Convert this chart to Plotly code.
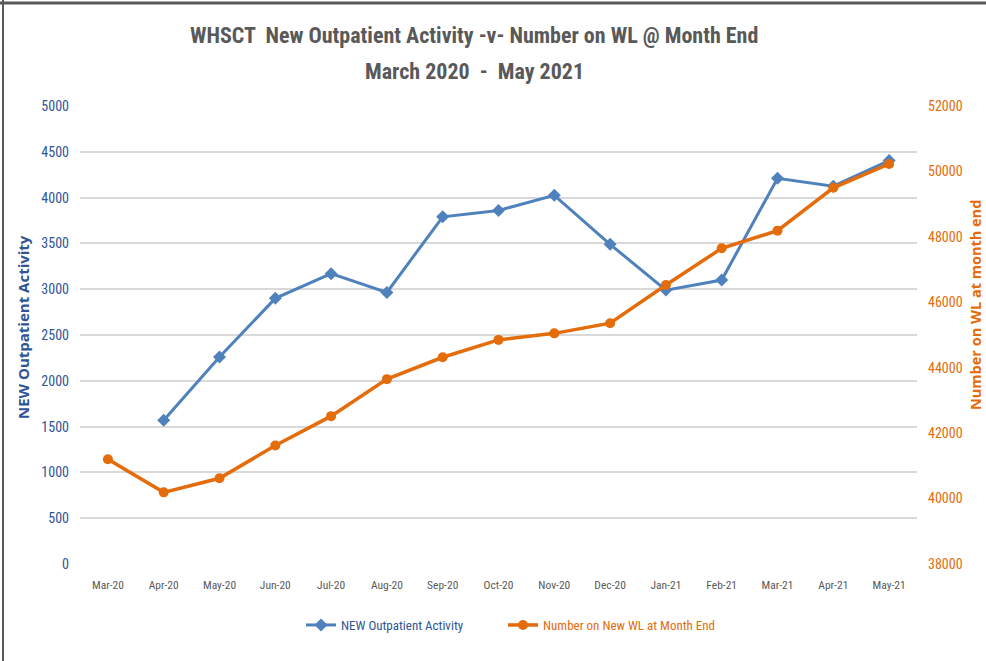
import plotly.graph_objects as go

months = ["Mar-20", "Apr-20", "May-20", "Jun-20", "Jul-20", "Aug-20", "Sep-20", "Oct-20",
          "Nov-20", "Dec-20", "Jan-21", "Feb-21", "Mar-21", "Apr-21", "May-21"]
new_outpatient = [None, 1570, 2260, 2900, 3170, 2965, 3790, 3860, 4025, 3490, 2990, 3100, 4210, 4125, 4405]
wl_month_end = [41200, 40190, 40620, 41620, 42520, 43650, 44320, 44850, 45050, 45360, 46530, 47650, 48190, 49500, 50230]
title_lines = ["WHSCT  New Outpatient Activity -v- Number on WL @ Month End", "March 2020  -  May 2021"]
left_title = "NEW Outpatient Activity"
right_title = "Number on WL at month end"

BLUE = "#4F81BD"
ORANGE = "#E46C0A"
FONT = "Liberation Sans Narrow, Arial Narrow, Roboto Condensed, Liberation Sans, sans-serif"

W, H = 986, 661
L, R, T, B = 80, 69, 106, 97
PW, PH = W - L - R, H - T - B

def px_x(x):
    return (x - L) / PW

def px_y(y):
    return 1 - (y - T) / PH

fig = go.Figure()
fig.add_trace(go.Scatter(
    x=months, y=new_outpatient, name="NEW Outpatient Activity", mode="lines+markers",
    line=dict(color=BLUE, width=3), marker=dict(symbol="diamond", size=10, color=BLUE),
    yaxis="y", connectgaps=False, legend="legend"))
fig.add_trace(go.Scatter(
    x=months, y=wl_month_end, name="Number on New WL at Month End", mode="lines+markers",
    line=dict(color=ORANGE, width=3.5), marker=dict(symbol="circle", size=10, color=ORANGE),
    yaxis="y2", legend="legend2"))

leg_y = px_y(625)
fig.update_layout(
    width=W, height=H,
    paper_bgcolor="white", plot_bgcolor="white",
    margin=dict(l=L, r=R, t=T, b=B),
    font=dict(family=FONT, color="#595959"),
    xaxis=dict(type="category", showgrid=False, showline=False, ticks="",
               tickfont=dict(size=11.5, color="#595959"), range=[-0.5, 14.5], automargin=False,
               ticklabelstandoff=12),
    yaxis=dict(range=[0, 5000], dtick=500, showgrid=True, gridcolor="#D9D9D9", gridwidth=1.5,
               zeroline=False, showline=False, ticks="", automargin=False, tickformat="d",
               ticklabelstandoff=10, tickfont=dict(size=14, color="#2F5597")),
    yaxis2=dict(range=[38000, 52000], dtick=2000, overlaying="y", side="right", showgrid=False,
                zeroline=False, showline=False, ticks="", automargin=False, tickformat="d",
                ticklabelstandoff=10, tickfont=dict(size=14, color=ORANGE)),
    legend=dict(orientation="h", x=px_x(301), xanchor="left", y=leg_y, yanchor="middle",
                font=dict(size=13, color="#2F5597"), itemwidth=30),
    legend2=dict(orientation="h", x=px_x(503), xanchor="left", y=leg_y, yanchor="middle",
                 font=dict(size=13, color=ORANGE), itemwidth=30),
    showlegend=True,
)

for txt, ypx in zip(title_lines, [35, 72]):
    fig.add_annotation(text="<b>" + txt + "</b>", xref="paper", yref="paper", x=px_x(474),
                       y=px_y(ypx), xanchor="center", yanchor="middle", showarrow=False,
                       font=dict(family=FONT, size=22, color="#595959"))

fig.add_annotation(text="<b>" + left_title + "</b>", xref="paper", yref="paper", x=px_x(23), y=px_y(327),
                   xanchor="center", yanchor="middle", textangle=-90, showarrow=False,
                   font=dict(family="Open Sans, sans-serif", size=15, color="#2F5597"))
fig.add_annotation(text="<b>" + right_title + "</b>", xref="paper", yref="paper", x=px_x(975), y=px_y(305),
                   xanchor="center", yanchor="middle", textangle=-90, showarrow=False,
                   font=dict(family="Open Sans, sans-serif", size=14.5, color=ORANGE))

fig.add_shape(type="line", xref="paper", yref="paper", x0=px_x(0), x1=px_x(W), y0=px_y(3), y1=px_y(3),
              line=dict(color="#595959", width=3))
fig.add_shape(type="line", xref="paper", yref="paper", x0=px_x(3), x1=px_x(3), y0=px_y(0), y1=px_y(H),
              line=dict(color="#595959", width=2))

fig.write_html("out.html", config={"displayModeBar": False},
               post_script="document.body.style.margin='0';document.body.style.overflow='hidden';")
